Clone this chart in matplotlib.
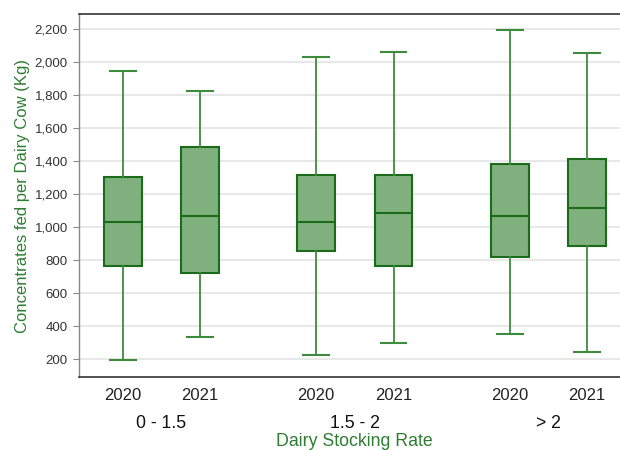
import matplotlib.pyplot as plt
import matplotlib.transforms as mtransforms
from matplotlib.ticker import FuncFormatter

plt.rcParams['font.family'] = ['Liberation Sans', 'DejaVu Sans']

groups = ['0 - 1.5', '1.5 - 2', '> 2']
years = ['2020', '2021']

# whisker low, Q1, median, Q3, whisker high  (order: group x year)
whislo = [194, 333, 228, 301, 355, 244]
q1 = [766, 722, 855, 768, 819, 886]
med = [1033, 1070, 1033, 1088, 1070, 1118]
q3 = [1306, 1487, 1320, 1317, 1381, 1414]
whishi = [1947, 1828, 2033, 2063, 2199, 2059]

green = '#2e7d32'
box_edge = '#1a6b1a'
box_fill = '#80b07e'
whisk = '#3d8b3d'

fig = plt.figure(figsize=(6.2, 4.5), dpi=100)
ax = fig.add_axes([0.1274, 0.1622, 0.8726, 0.8067])

stats = []
positions = []
labels = []
for i in range(len(whislo)):
    g = i // 2
    y = i % 2
    stats.append({'whislo': whislo[i], 'q1': q1[i], 'med': med[i],
                  'q3': q3[i], 'whishi': whishi[i], 'fliers': []})
    positions.append(g + (-0.2 if y == 0 else 0.2))
    labels.append(years[y])

ax.bxp(stats, positions=positions, widths=0.195, capwidths=0.133,
       patch_artist=True, showfliers=False,
       boxprops=dict(facecolor=box_fill, edgecolor=box_edge, linewidth=1.5),
       medianprops=dict(color=box_edge, linewidth=1.5),
       whiskerprops=dict(color=whisk, linewidth=1.3),
       capprops=dict(color=whisk, linewidth=1.5))

ax.set_xlim(-0.426, 2.37)
ax.set_ylim(93, 2293)
ax.set_yticks(range(200, 2201, 200))
ax.yaxis.set_major_formatter(FuncFormatter(lambda v, p: f'{int(v):,}'))
ax.set_xticks(positions)
ax.set_xticklabels([])
ax.tick_params(axis='x', length=0)
ax.tick_params(axis='y', length=4.5, color='#888888', labelsize=9.5, labelcolor='#333333')

ax.grid(axis='y', color='#e4e4e4', linewidth=1.2)
ax.set_axisbelow(True)
for s in ['top', 'bottom']:
    ax.spines[s].set_color('#333333')
    ax.spines[s].set_linewidth(1.2)
ax.spines['left'].set_color('#888888')
ax.spines['left'].set_linewidth(1.0)
ax.spines['right'].set_visible(False)

trans = mtransforms.blended_transform_factory(ax.transData, fig.transFigure)
for p, lab in zip(positions, labels):
    ax.text(p, 1 - 400 / 450, lab, transform=trans, ha='center', va='baseline',
            fontsize=12, color='#222222')
for g, name in enumerate(groups):
    ax.text(g, 1 - 427.5 / 450, name, transform=trans, ha='center', va='baseline',
            fontsize=12.7, color='#111111')

# keep descenders inside the image
fig.text(354.5 / 620, 1 - 445.5 / 450, 'Dairy Stocking Rate', ha='center', va='baseline',
         fontsize=12.8, color=green)
ax.set_ylabel('Concentrates fed per Dairy Cow (Kg)', color=green, fontsize=12, labelpad=3.5)

plt.savefig('out.png', dpi=100)
